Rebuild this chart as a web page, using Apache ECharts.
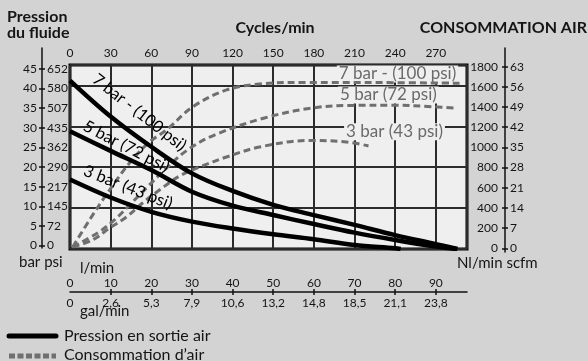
<!DOCTYPE html>
<html>
<head>
<meta charset="utf-8">
<script src="https://cdn.jsdelivr.net/npm/echarts@6/dist/echarts.min.js"></script>
<style>
  html, body { margin: 0; padding: 0; background: #d3d3d3; }
  #chart { width: 588px; height: 361px; }
</style>
</head>
<body>
<div id="chart"></div>
<script>
// Pump performance chart: outlet pressure and air consumption against pump speed.

// Axis ticks and labels
const cycleTicks = [0, 30, 60, 90, 120, 150, 180, 210, 240, 270];
const barTicks = [0, 5, 10, 15, 20, 25, 30, 35, 40, 45];
const psiLabels = ['0', '72', '145', '217', '290', '362', '435', '507', '580', '652'];
const nlTicks = [0, 200, 400, 600, 800, 1000, 1200, 1400, 1600, 1800];
const scfmLabels = ['0', '7', '14', '21', '28', '35', '42', '49', '56', '63'];
const lminTicks = [0, 10, 20, 30, 40, 50, 60, 70, 80, 90];
const galLabels = ['0', '2,6', '5,3', '7,9', '10,6', '13,2', '14,8', '18,5', '21,1', '23,8'];

// Outlet fluid pressure (bar) vs cycles/min, per air supply pressure
const pressure7 = [[0, 41.2], [30, 32.4], [60, 25.0], [90, 18.5], [120, 14.2], [150, 10.8], [180, 8.3], [210, 5.9], [240, 3.4], [270, 1.2], [286, 0]];
const pressure5 = [[0, 28.8], [30, 24.0], [60, 19.3], [90, 14.0], [120, 10.6], [150, 8.3], [180, 6.1], [210, 4.0], [240, 2.2], [270, 0.6], [285, 0]];
const pressure3 = [[0, 17.0], [30, 12.6], [60, 9.1], [90, 6.7], [120, 5.0], [150, 3.6], [180, 2.4], [210, 1.0], [240, 0.2], [244, 0]];

// Air consumption (Nl/min) vs cycles/min, per air supply pressure
const air7 = [[2, 20], [14.4, 284], [29.2, 577], [43.9, 841], [58.7, 1047], [71.2, 1164], [90.4, 1389], [115.5, 1556], [139.9, 1614], [176.8, 1630], [230, 1628], [287.5, 1622]];
const air5 = [[2, 20], [20.3, 157], [32.8, 284], [45.4, 450], [57.2, 607], [69.7, 773], [86.7, 969], [106.6, 1115], [143.5, 1282], [179, 1380], [208.5, 1405], [238, 1407], [267.5, 1392], [283.8, 1378]];
const air3 = [[2, 20], [16.6, 88], [29.2, 205], [41.7, 313], [53.5, 450], [66, 577], [80.8, 714], [95.6, 802], [115.5, 900], [139.9, 998], [176.8, 1062], [204, 1047], [220.3, 1008]];

const curveNames = ['7 bar - (100 psi)', '5 bar (72 psi)', '3 bar (43 psi)'];

const FONT = 'Lato';
const TXT = '#151515';
const xMax = 293;

const chart = echarts.init(document.getElementById('chart'), null, { renderer: 'canvas' });

function pressureSeries(data, name, labelAt, angle) {
  return {
    type: 'line', name: name, xAxisIndex: 0, yAxisIndex: 0,
    data: data, smooth: 0.35, symbol: 'none', z: 4,
    lineStyle: { color: '#000', width: 4.5 },
    markPoint: {
      z: 6, symbol: 'circle', symbolSize: 1,
      itemStyle: { color: 'rgba(0,0,0,0)' },
      label: { show: true, position: 'inside', formatter: name, rotate: angle,
               fontFamily: FONT, fontSize: 16.5, color: '#000' },
      data: [{ coord: labelAt }]
    }
  };
}

function airSeries(data, name, labelAt) {
  return {
    type: 'line', name: name + ' air', xAxisIndex: 0, yAxisIndex: 1,
    data: data, smooth: 0.35, symbol: 'none', z: 3,
    lineStyle: { color: '#6f6f6f', width: 3, type: [7, 4] },
    markPoint: {
      z: 1, symbol: 'circle', symbolSize: 1,
      itemStyle: { color: 'rgba(0,0,0,0)' },
      label: { show: true, position: 'inside', formatter: name,
               fontFamily: FONT, fontSize: 17, color: '#6a6a6a',
               backgroundColor: '#efefef', padding: [0, 2], lineHeight: 17 },
      data: [{ coord: labelAt }]
    }
  };
}

const sideLabel = { fontFamily: FONT, fontSize: 12, color: TXT };

const option = {
  backgroundColor: '#d3d3d3',
  animation: false,
  grid: [
    { left: 70, right: 121, top: 65, bottom: 112, show: true, backgroundColor: '#efefef', borderColor: '#000', borderWidth: 3 },
    { left: 42, top: 48, width: 1, bottom: 113 },
    { left: 505, top: 48, width: 1, bottom: 109 },
    { left: 70, right: 121, top: 291, height: 1 }
  ],
  xAxis: [
    { gridIndex: 0, type: 'value', position: 'top', min: 0, max: xMax, interval: 30,
      axisLine: { show: false }, axisTick: { show: false },
      axisLabel: { margin: 6, showMaxLabel: false, fontFamily: FONT, fontSize: 12, color: TXT },
      splitLine: { show: true, lineStyle: { color: '#2b2b2b', width: 2 } } },
    { gridIndex: 1, type: 'value', show: false },
    { gridIndex: 2, type: 'value', show: false },
    { gridIndex: 3, type: 'value', position: 'top', min: 0, max: xMax / 3,
      axisLine: { show: true, lineStyle: { color: '#111', width: 1.5 } },
      axisTick: { show: true, length: 3, customValues: lminTicks.slice(1), lineStyle: { color: '#111', width: 1.5 } },
      axisLabel: { customValues: lminTicks, margin: 2, fontFamily: FONT, fontSize: 12, color: TXT },
      splitLine: { show: false } },
    { gridIndex: 3, type: 'value', position: 'bottom', min: 0, max: xMax / 3,
      axisLine: { show: false },
      axisTick: { show: true, length: 3, customValues: lminTicks.slice(1), lineStyle: { color: '#111', width: 1.5 } },
      axisLabel: { customValues: lminTicks, margin: 5, fontFamily: FONT, fontSize: 12, color: TXT,
                   formatter: v => galLabels[Math.round(v / 10)] },
      splitLine: { show: false } }
  ],
  yAxis: [
    { gridIndex: 0, type: 'value', min: 0, max: 45, interval: 10,
      axisLine: { show: false }, axisTick: { show: false }, axisLabel: { show: false },
      splitLine: { show: true, lineStyle: { color: '#2b2b2b', width: 2 } } },
    { gridIndex: 0, type: 'value', min: 0, max: 1800, show: false, splitLine: { show: false } },
    { gridIndex: 1, type: 'value', position: 'left', min: -0.64, max: 50.35,
      axisLine: { show: true, lineStyle: { color: '#111', width: 1.5 } },
      axisTick: { show: true, length: 3, customValues: barTicks, lineStyle: { color: '#111', width: 1.5 } },
      axisLabel: Object.assign({ customValues: barTicks, margin: 5, formatter: v => String(v) }, sideLabel),
      splitLine: { show: false } },
    { gridIndex: 1, type: 'value', position: 'left', min: -0.64, max: 50.35,
      axisLine: { show: false },
      axisTick: { show: true, inside: true, length: 3, customValues: barTicks, lineStyle: { color: '#111', width: 1.5 } },
      axisLabel: Object.assign({ customValues: barTicks, inside: true, margin: 5,
                                 formatter: v => psiLabels[Math.round(v / 5)] }, sideLabel),
      splitLine: { show: false } },
    { gridIndex: 2, type: 'value', position: 'left', min: -36.7, max: 1985,
      axisLine: { show: true, lineStyle: { color: '#111', width: 1.5 } },
      axisTick: { show: true, length: 3, customValues: nlTicks, lineStyle: { color: '#111', width: 1.5 } },
      axisLabel: Object.assign({ customValues: nlTicks, margin: 7, formatter: v => String(v) }, sideLabel),
      splitLine: { show: false } },
    { gridIndex: 2, type: 'value', position: 'left', min: -36.7, max: 1985,
      axisLine: { show: false },
      axisTick: { show: true, inside: true, length: 3, customValues: nlTicks, lineStyle: { color: '#111', width: 1.5 } },
      axisLabel: Object.assign({ customValues: nlTicks, inside: true, margin: 5,
                                 formatter: v => scfmLabels[Math.round(v / 200)] }, sideLabel),
      splitLine: { show: false } },
    { gridIndex: 3, type: 'value', show: false }
  ],
  series: [
    airSeries(air7, curveNames[0], [241.7, 1712]),
    airSeries(air5, curveNames[1], [235, 1507]),
    airSeries(air3, curveNames[2], [239.5, 1148]),
    pressureSeries(pressure7, curveNames[0], [51.2, 33.4], -38),
    pressureSeries(pressure5, curveNames[1], [41.6, 25.1], -27),
    pressureSeries(pressure3, curveNames[2], [42.8, 15.1], -21.5)
  ],
  graphic: [
    { type: 'text', x: 7, y: 17, style: { text: 'Pression', font: 'bold 16px ' + FONT, fill: TXT, verticalAlign: 'middle' } },
    { type: 'text', x: 7, y: 33, style: { text: 'du fluide', font: 'bold 16px ' + FONT, fill: TXT, verticalAlign: 'middle' } },
    { type: 'text', x: 275, y: 28, style: { text: 'Cycles/min', font: 'bold 16px ' + FONT, fill: TXT, align: 'center', verticalAlign: 'middle' } },
    { type: 'text', x: 587, y: 28, style: { text: 'CONSOMMATION AIR', font: 'bold 16px ' + FONT, fill: TXT, align: 'right', verticalAlign: 'middle' } },
    { type: 'text', x: 19, y: 262, style: { text: 'bar psi', font: '15px ' + FONT, fill: TXT, verticalAlign: 'middle' } },
    { type: 'text', x: 457, y: 263, style: { text: 'Nl/min scfm', font: '15px ' + FONT, fill: TXT, verticalAlign: 'middle' } },
    { type: 'text', x: 80, y: 268, style: { text: 'l/min', font: '15px ' + FONT, fill: TXT, verticalAlign: 'middle' } },
    { type: 'text', x: 80, y: 311, style: { text: 'gal/min', font: '15px ' + FONT, fill: TXT, verticalAlign: 'middle' } },
    { type: 'line', shape: { x1: 9, y1: 336, x2: 56, y2: 336 }, style: { stroke: '#000', lineWidth: 5, lineCap: 'round' } },
    { type: 'line', shape: { x1: 9, y1: 356, x2: 56, y2: 356 }, style: { stroke: '#6f6f6f', lineWidth: 5, lineDash: [6, 2.5], lineCap: 'butt' } },
    { type: 'text', x: 64, y: 336, style: { text: 'Pression en sortie air', font: '16px ' + FONT, fill: TXT, verticalAlign: 'middle' } },
    { type: 'text', x: 64, y: 355, style: { text: 'Consommation d\u2019air', font: '16px ' + FONT, fill: TXT, verticalAlign: 'middle' } }
  ]
};

chart.setOption(option);
</script>
</body>
</html>
